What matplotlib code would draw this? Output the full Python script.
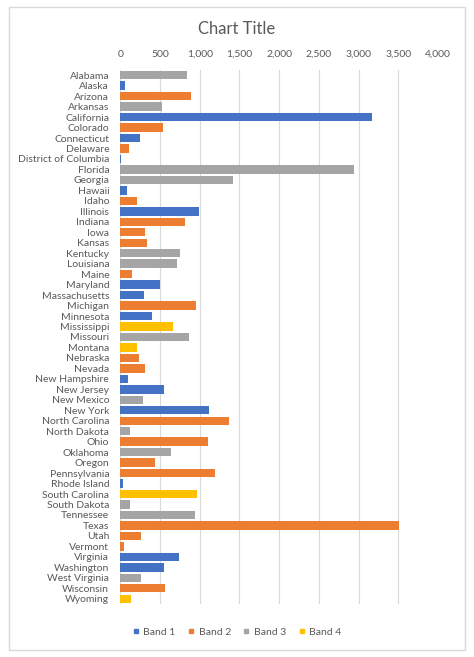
import matplotlib.pyplot as plt
import numpy as np
from matplotlib.patches import Rectangle
from matplotlib.lines import Line2D

plt.rcParams['font.family'] = ['Lato', 'DejaVu Sans']

states = ['Alabama', 'Alaska', 'Arizona', 'Arkansas', 'California', 'Colorado',
          'Connecticut', 'Delaware', 'District of Columbia', 'Florida', 'Georgia',
          'Hawaii', 'Idaho', 'Illinois', 'Indiana', 'Iowa', 'Kansas', 'Kentucky',
          'Louisiana', 'Maine', 'Maryland', 'Massachusetts', 'Michigan', 'Minnesota',
          'Mississippi', 'Missouri', 'Montana', 'Nebraska', 'Nevada', 'New Hampshire',
          'New Jersey', 'New Mexico', 'New York', 'North Carolina', 'North Dakota',
          'Ohio', 'Oklahoma', 'Oregon', 'Pennsylvania', 'Rhode Island',
          'South Carolina', 'South Dakota', 'Tennessee', 'Texas', 'Utah', 'Vermont',
          'Virginia', 'Washington', 'West Virginia', 'Wisconsin', 'Wyoming']

values = [840, 55, 887, 521, 3167, 534, 252, 113, 13, 2936, 1424, 84, 206, 988,
          815, 311, 340, 748, 718, 143, 504, 294, 954, 403, 668, 861, 210, 235,
          315, 101, 550, 290, 1113, 1373, 122, 1105, 635, 441, 1193, 30, 970, 122,
          945, 3512, 265, 47, 743, 554, 261, 559, 135]

bands = [3, 1, 2, 3, 1, 2, 1, 2, 1, 3, 3, 1, 2, 1, 2, 2, 2, 3, 3, 2, 1, 1, 2, 1,
         4, 3, 4, 2, 2, 1, 1, 3, 1, 2, 3, 2, 3, 2, 2, 1, 4, 3, 3, 2, 2, 2, 1, 1,
         3, 2, 4]

band_names = ['Band 1', 'Band 2', 'Band 3', 'Band 4']
band_colors = ['#4472C4', '#ED7D31', '#A5A5A5', '#FFC000']

text_color = '#595959'

fig = plt.figure(figsize=(4.74, 6.57), dpi=100)
ax = fig.add_axes([0.2538, 0.0807, 0.6703, 0.8128])

y_pos = np.arange(len(states))
left = np.zeros(len(states))
for b in range(4):
    series = np.array([v if bd == b + 1 else 0 for v, bd in zip(values, bands)])
    ax.barh(y_pos, series, left=left, height=0.8, color=band_colors[b],
            label=band_names[b], zorder=3)
    left = left + series

ax.set_ylim(len(states) - 0.5, -0.5)
ax.set_xlim(0, 4000)
ax.set_xticks(np.arange(0, 4001, 500))
ax.set_xticklabels(['{:,}'.format(t) for t in range(0, 4001, 500)])
ax.xaxis.tick_top()
ax.set_yticks(y_pos)
ax.set_yticklabels(states)
ax.tick_params(axis='both', length=0, labelsize=7.5, colors=text_color)
ax.tick_params(axis='y', pad=8)
ax.tick_params(axis='x', pad=8)
ax.grid(axis='x', color='#D9D9D9', linewidth=0.8, zorder=0)
for s in ax.spines.values():
    s.set_visible(False)

fig.text(0.5, 1 - 29 / 657, 'Chart Title', ha='center', va='center',
         fontsize=12, color=text_color)

handles = [Line2D([], [], marker='s', linestyle='none', markersize=3.5,
                  color=c) for c in band_colors]
fig.legend(handles, band_names, loc='center', bbox_to_anchor=(0.5, 1 - 632 / 657),
           ncol=4, frameon=False, fontsize=7.5, handlelength=0.6,
           handletextpad=0.4, columnspacing=1.2, labelcolor=text_color)

fig.patches.append(Rectangle((9 / 474, 1 - 650 / 657), 456 / 474, 643 / 657,
                             transform=fig.transFigure, fill=False,
                             edgecolor='#D9D9D9', linewidth=1))

fig.savefig('out.png', dpi=100)
